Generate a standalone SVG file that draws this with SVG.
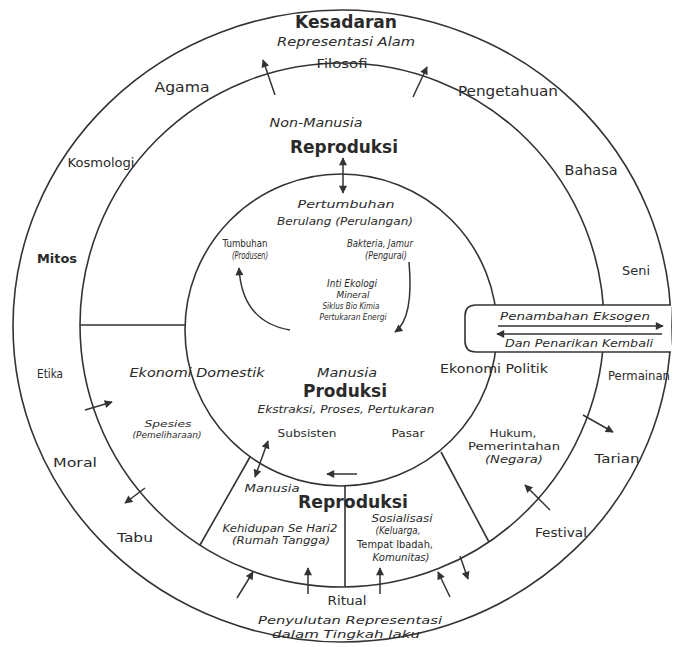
<svg xmlns="http://www.w3.org/2000/svg" width="676" height="647" viewBox="0 0 676 647">
<style>
.t{font-family:"DejaVu Sans","Liberation Sans",sans-serif;fill:#2a2a2a;text-anchor:middle}
.i{font-style:italic}
.b{font-weight:bold}
.ln{fill:none;stroke:#333;stroke-width:1.6}
.ar{fill:none;stroke:#333;stroke-width:1.5;marker-end:url(#ah)}
.ar2{fill:none;stroke:#333;stroke-width:1.5;marker-end:url(#ah);marker-start:url(#ah)}
</style>
<defs>
<marker id="ah" viewBox="0 0 10 10" refX="9" refY="5" markerWidth="11" markerHeight="8" orient="auto-start-reverse" markerUnits="userSpaceOnUse">
<path d="M0,0 L10,5 L0,10 z" fill="#333"/>
</marker>
</defs>
<rect width="676" height="647" fill="#fff"/>
<g id="rings">
<ellipse class="ln" cx="342" cy="326" rx="329" ry="316"/>
<circle class="ln" cx="342" cy="325" r="262"/>
<circle class="ln" cx="341" cy="330" r="156"/>
<line class="ln" x1="80" y1="325" x2="185" y2="325"/>
<line class="ln" x1="250" y1="457" x2="200" y2="545"/>
<line class="ln" x1="441" y1="452" x2="489" y2="542"/>
<line class="ln" x1="345" y1="486" x2="345" y2="587"/>
</g>
<g id="capsule">
<path d="M671 305 H476 Q465 305 465 316 V341 Q465 352 476 352 H671" fill="#fff" stroke="#333" stroke-width="1.6"/>
</g>
<g id="connectors">
<line class="ar" x1="275" y1="95" x2="263" y2="60"/>
<line class="ar" x1="413" y1="97" x2="427" y2="67"/>
<line class="ar2" x1="343" y1="158" x2="343" y2="193"/>
<line class="ar" x1="85" y1="410" x2="112" y2="402"/>
<line class="ar" x1="145" y1="488" x2="125" y2="503"/>
<line class="ar2" x1="255" y1="477" x2="268" y2="441"/>
<line class="ar" x1="357" y1="474" x2="327" y2="474"/>
<line class="ar" x1="237" y1="598" x2="253" y2="572"/>
<line class="ar" x1="308" y1="594" x2="308" y2="568"/>
<line class="ar" x1="380" y1="594" x2="380" y2="568"/>
<line class="ar" x1="450" y1="597" x2="438" y2="572"/>
<line class="ar" x1="460" y1="556" x2="468" y2="579"/>
<line class="ar" x1="550" y1="510" x2="525" y2="485"/>
<line class="ar" x1="583" y1="415" x2="613" y2="432"/>
<path class="ar" d="M290 330 Q242 322 239 268"/>
<path class="ar" d="M409 262 Q414 318 395 332"/>
<line class="ar" x1="498" y1="326" x2="663" y2="326"/>
<line class="ar" x1="662" y1="334" x2="497" y2="334"/>
</g>
<g id="outer-labels">
<text class="t b" x="346" y="28" font-size="18" textLength="102" lengthAdjust="spacingAndGlyphs">Kesadaran</text>
<text class="t i" x="346" y="46" font-size="12" textLength="138" lengthAdjust="spacingAndGlyphs">Representasi Alam</text>
<text class="t" x="342" y="68" font-size="12" textLength="51" lengthAdjust="spacingAndGlyphs">Filosofi</text>
<text class="t" x="182" y="92" font-size="14" textLength="55" lengthAdjust="spacingAndGlyphs">Agama</text>
<text class="t" x="508" y="96" font-size="14" textLength="100" lengthAdjust="spacingAndGlyphs">Pengetahuan</text>
<text class="t" x="101" y="167" font-size="12" textLength="67" lengthAdjust="spacingAndGlyphs">Kosmologi</text>
<text class="t" x="591" y="175" font-size="14" textLength="53" lengthAdjust="spacingAndGlyphs">Bahasa</text>
<text class="t b" x="57" y="263" font-size="13" textLength="40" lengthAdjust="spacingAndGlyphs">Mitos</text>
<text class="t" x="636" y="275" font-size="12" textLength="28" lengthAdjust="spacingAndGlyphs">Seni</text>
<text class="t" x="50" y="378" font-size="13" textLength="26" lengthAdjust="spacingAndGlyphs">Etika</text>
<text class="t" x="75" y="467" font-size="13" textLength="44" lengthAdjust="spacingAndGlyphs">Moral</text>
<text class="t" x="135" y="542" font-size="13" textLength="36" lengthAdjust="spacingAndGlyphs">Tabu</text>
<text class="t" x="561" y="537" font-size="13" textLength="52" lengthAdjust="spacingAndGlyphs">Festival</text>
<text class="t" x="617" y="463" font-size="13" textLength="45" lengthAdjust="spacingAndGlyphs">Tarian</text>
<text class="t" x="639" y="380" font-size="12" textLength="62" lengthAdjust="spacingAndGlyphs">Permainan</text>
</g>
<g id="middle-labels">
<text class="t i" x="316" y="127" font-size="12" textLength="93" lengthAdjust="spacingAndGlyphs">Non-Manusia</text>
<text class="t b" x="344" y="153" font-size="18" textLength="108" lengthAdjust="spacingAndGlyphs">Reproduksi</text>
<text class="t i" x="197" y="377" font-size="12" textLength="135" lengthAdjust="spacingAndGlyphs">Ekonomi Domestik</text>
<text class="t" x="494" y="373" font-size="12" textLength="108" lengthAdjust="spacingAndGlyphs">Ekonomi Politik</text>
<text class="t i" x="168" y="427" font-size="9.5" textLength="47" lengthAdjust="spacingAndGlyphs">Spesies</text>
<text class="t i" x="167" y="438" font-size="9.5" textLength="69" lengthAdjust="spacingAndGlyphs">(Pemeliharaan)</text>
<text class="t" x="513" y="437" font-size="10" textLength="47" lengthAdjust="spacingAndGlyphs">Hukum,</text>
<text class="t" x="514" y="450" font-size="10" textLength="92" lengthAdjust="spacingAndGlyphs">Pemerintahan</text>
<text class="t i" x="514" y="463" font-size="10" textLength="58" lengthAdjust="spacingAndGlyphs">(Negara)</text>
<text class="t i" x="575" y="320" font-size="11" textLength="150" lengthAdjust="spacingAndGlyphs">Penambahan Eksogen</text>
<text class="t i" x="579" y="347" font-size="11" textLength="148" lengthAdjust="spacingAndGlyphs">Dan Penarikan Kembali</text>
</g>
<g id="inner-labels">
<text class="t i" x="346" y="208" font-size="11" textLength="97" lengthAdjust="spacingAndGlyphs">Pertumbuhan</text>
<text class="t i" x="345" y="225" font-size="11" textLength="136" lengthAdjust="spacingAndGlyphs">Berulang (Perulangan)</text>
<text class="t" x="245" y="247" font-size="10" textLength="45" lengthAdjust="spacingAndGlyphs">Tumbuhan</text>
<text class="t i" x="250" y="259" font-size="10" textLength="36" lengthAdjust="spacingAndGlyphs">(Produsen)</text>
<text class="t i" x="380" y="247" font-size="10" textLength="66" lengthAdjust="spacingAndGlyphs">Bakteria, Jamur</text>
<text class="t i" x="386" y="259" font-size="10" textLength="42" lengthAdjust="spacingAndGlyphs">(Pengurai)</text>
<text class="t i" x="352" y="287" font-size="10" textLength="50" lengthAdjust="spacingAndGlyphs">Inti Ekologi</text>
<text class="t i" x="353" y="298" font-size="9" textLength="33" lengthAdjust="spacingAndGlyphs">Mineral</text>
<text class="t i" x="351" y="309" font-size="9" textLength="57" lengthAdjust="spacingAndGlyphs">Siklus Bio Kimia</text>
<text class="t i" x="353" y="320" font-size="9" textLength="67" lengthAdjust="spacingAndGlyphs">Pertukaran Energi</text>
<text class="t i" x="347" y="377" font-size="12" textLength="60" lengthAdjust="spacingAndGlyphs">Manusia</text>
<text class="t b" x="345" y="397" font-size="18" textLength="84" lengthAdjust="spacingAndGlyphs">Produksi</text>
<text class="t i" x="346" y="413" font-size="11" textLength="177" lengthAdjust="spacingAndGlyphs">Ekstraksi, Proses, Pertukaran</text>
<text class="t" x="307" y="437" font-size="11" textLength="59" lengthAdjust="spacingAndGlyphs">Subsisten</text>
<text class="t" x="408" y="437" font-size="11" textLength="33" lengthAdjust="spacingAndGlyphs">Pasar</text>
</g>
<g id="bottom-labels">
<text class="t i" x="272" y="492" font-size="11" textLength="55" lengthAdjust="spacingAndGlyphs">Manusia</text>
<text class="t b" x="353" y="508" font-size="18" textLength="110" lengthAdjust="spacingAndGlyphs">Reproduksi</text>
<text class="t i" x="280" y="532" font-size="10.5" textLength="115" lengthAdjust="spacingAndGlyphs">Kehidupan Se Hari2</text>
<text class="t i" x="281" y="544" font-size="10.5" textLength="98" lengthAdjust="spacingAndGlyphs">(Rumah Tangga)</text>
<text class="t i" x="402" y="522" font-size="10" textLength="61" lengthAdjust="spacingAndGlyphs">Sosialisasi</text>
<text class="t i" x="398" y="534" font-size="10" textLength="45" lengthAdjust="spacingAndGlyphs">(Keluarga,</text>
<text class="t" x="395" y="548" font-size="10.5" textLength="76" lengthAdjust="spacingAndGlyphs">Tempat Ibadah,</text>
<text class="t i" x="401" y="561" font-size="10" textLength="57" lengthAdjust="spacingAndGlyphs">Komunitas)</text>
<text class="t" x="347" y="605" font-size="12" textLength="39" lengthAdjust="spacingAndGlyphs">Ritual</text>
<text class="t i" x="350" y="624" font-size="11" textLength="184" lengthAdjust="spacingAndGlyphs">Penyulutan Representasi</text>
<text class="t i" x="346" y="638" font-size="11" textLength="148" lengthAdjust="spacingAndGlyphs">dalam Tingkah laku</text>
</g>
</svg>
